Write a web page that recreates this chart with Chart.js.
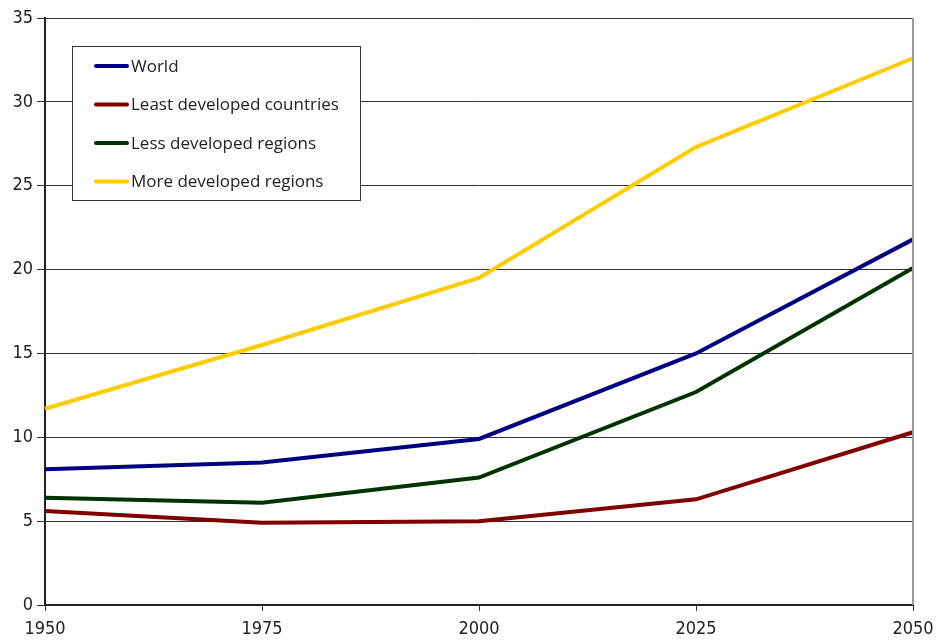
<!DOCTYPE html>
<html>
<head>
<meta charset="utf-8">
<script src="https://cdn.jsdelivr.net/npm/chart.js@4.4.0/dist/chart.umd.min.js"></script>
<style>
html,body{margin:0;padding:0;background:#fff;}
#wrap{width:936px;height:644px;position:relative;}
</style>
</head>
<body>
<div id="wrap"><canvas id="c" width="936" height="644"></canvas></div>
<script>
const years = ['1950', '1975', '2000', '2025', '2050'];
const world = [8.1, 8.5, 9.9, 15.0, 21.8];
const leastDeveloped = [5.6, 4.9, 5.0, 6.3, 10.3];
const lessDeveloped = [6.4, 6.1, 7.6, 12.7, 20.1];
const moreDeveloped = [11.7, 15.5, 19.5, 27.3, 32.6];
const seriesNames = ['World', 'Least developed countries', 'Less developed regions', 'More developed regions'];
const seriesColors = ['#000080', '#800000', '#003300', '#FFCC00'];

const FONT = '"Liberation Sans Narrow", "DejaVu Sans Condensed", "Open Sans", sans-serif';

const legendBox = {
  id: 'legendBox',
  afterDraw(chart) {
    const ctx = chart.ctx;
    ctx.save();
    const x0 = 72.5, y0 = 46.5, w = 288, h = 154;
    ctx.fillStyle = '#fff';
    ctx.fillRect(x0, y0, w, h);
    ctx.strokeStyle = '#333';
    ctx.lineWidth = 1;
    ctx.strokeRect(x0, y0, w, h);
    ctx.font = '17px "Open Sans", sans-serif';
    ctx.textBaseline = 'middle';
    chart.data.datasets.forEach((ds, i) => {
      const y = 66 + i * 38.5;
      ctx.strokeStyle = ds.borderColor;
      ctx.lineWidth = 4;
      ctx.lineCap = 'round';
      ctx.beginPath();
      ctx.moveTo(96, y);
      ctx.lineTo(127, y);
      ctx.stroke();
      ctx.fillStyle = '#222';
      ctx.fillText(ds.label, 131, y + 1);
    });
    const a = chart.chartArea;
    ctx.strokeStyle = '#999';
    ctx.lineWidth = 2;
    ctx.lineCap = 'butt';
    ctx.beginPath();
    ctx.moveTo(a.right, a.top);
    ctx.lineTo(a.right, a.bottom);
    ctx.stroke();
    ctx.restore();
  }
};

const allSeries = [world, leastDeveloped, lessDeveloped, moreDeveloped];

new Chart(document.getElementById('c'), {
  type: 'line',
  data: {
    labels: years,
    datasets: allSeries.map((d, i) => ({
      label: seriesNames[i],
      data: d,
      borderColor: seriesColors[i],
      backgroundColor: seriesColors[i],
      borderWidth: 4,
      pointRadius: 0,
      tension: 0,
      fill: false
    }))
  },
  options: {
    responsive: false,
    animation: false,
    devicePixelRatio: 1,
    layout: { padding: { left: 0, right: 23, top: 18, bottom: 0 } },
    plugins: { legend: { display: false }, tooltip: { enabled: false } },
    scales: {
      x: {
        type: 'category',
        offset: false,
        grid: { display: true, drawOnChartArea: false, drawTicks: true, tickLength: 6, color: '#333', lineWidth: 1 },
        border: { display: true, color: '#222', width: 2 },
        ticks: { font: { family: FONT, size: 18 }, color: '#222', padding: 8, maxRotation: 0 },
        afterFit(s) { s.height = 39; s.paddingRight = 0; s.paddingLeft = 0; }
      },
      y: {
        min: 0, max: 35,
        grid: { color: '#333', lineWidth: 1, drawTicks: true, tickLength: 8 },
        border: { display: true, color: '#222', width: 2 },
        ticks: { stepSize: 5, font: { family: FONT, size: 18 }, color: '#222', padding: 4 },
        afterFit(s) { s.width = 45; s.paddingTop = 0; s.paddingBottom = 0; }
      }
    }
  },
  plugins: [legendBox]
});
</script>
</body>
</html>
